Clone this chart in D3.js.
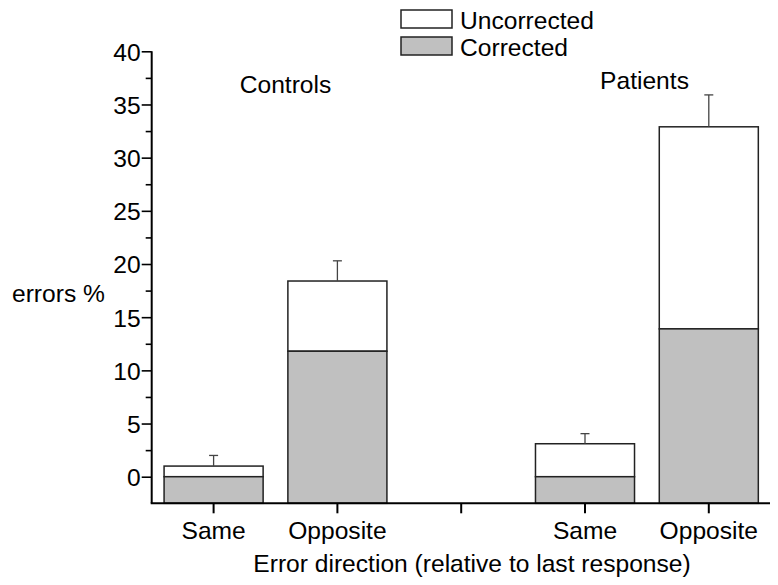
<!DOCTYPE html>
<html>
<head>
<meta charset="utf-8">
<script src="https://cdn.jsdelivr.net/npm/d3@7"></script>
<style>
  body { margin: 0; background: #fff; }
  svg text { font-family: "Liberation Sans", Arial, sans-serif; fill: #000; }
</style>
</head>
<body>
<div id="chart"></div>
<script>
// ------------------
// Data
// ------------------
const slots = ["c-same", "c-opp", "gap", "p-same", "p-opp"];
const slotLabels = ["Same", "Opposite", "", "Same", "Opposite"];
const barSlots = ["c-same", "c-opp", "p-same", "p-opp"];
const corrected = [0, 11.8, 0, 13.9];
const total = [1.0, 18.4, 3.1, 32.9];   // corrected + uncorrected
const errTop = [2.0, 20.3, 4.05, 35.9];
const groups = [
  { name: "Controls", x: 285.5, y: 93 },
  { name: "Patients", x: 644.5, y: 89 }
];
const yMajor = [0, 5, 10, 15, 20, 25, 30, 35, 40];
const yMinor = [2.5, 7.5, 12.5, 17.5, 22.5, 27.5, 32.5, 37.5];

const width = 778, height = 585;
const margin = { left: 151.7, right: 7.3, top: 51.3, bottom: 81.7 };
const yMin = -2.5;
const fontSize = 24.6;

const svg = d3.select("#chart").append("svg")
  .attr("width", width)
  .attr("height", height);

const x = d3.scaleBand()
  .domain(slots)
  .range([margin.left, width - margin.right])
  .paddingInner(0.2)
  .paddingOuter(0.1);

const y = d3.scaleLinear()
  .domain([yMin, 40])
  .range([height - margin.bottom, margin.top]);

const fillGray = "#c0c0c0";
const edge = "#222";

// ------------------
// Bars
// ------------------
const bars = svg.append("g");
barSlots.forEach((s, i) => {
  // uncorrected (white) part on top
  bars.append("rect")
    .attr("x", x(s))
    .attr("width", x.bandwidth())
    .attr("y", y(total[i]))
    .attr("height", y(corrected[i]) - y(total[i]))
    .attr("fill", "#fff")
    .attr("stroke", edge)
    .attr("stroke-width", 1.5);
  // corrected (gray) part from the baseline
  bars.append("rect")
    .attr("x", x(s))
    .attr("width", x.bandwidth())
    .attr("y", y(corrected[i]))
    .attr("height", y(yMin) - y(corrected[i]))
    .attr("fill", fillGray)
    .attr("stroke", edge)
    .attr("stroke-width", 1.5);

  // error bar (upper half only)
  const cx = x(s) + x.bandwidth() / 2;
  bars.append("line")
    .attr("x1", cx).attr("x2", cx)
    .attr("y1", y(total[i])).attr("y2", y(errTop[i]))
    .attr("stroke", "#444").attr("stroke-width", 1.3);
  bars.append("line")
    .attr("x1", cx - 4.5).attr("x2", cx + 4.5)
    .attr("y1", y(errTop[i])).attr("y2", y(errTop[i]))
    .attr("stroke", "#444").attr("stroke-width", 1.3);
});

// ------------------
// Axes
// ------------------
const yAxis = svg.append("g")
  .attr("transform", `translate(${margin.left},0)`)
  .call(d3.axisLeft(y).tickValues(yMajor).tickSize(10).tickPadding(1).tickFormat(d3.format("d")));
yAxis.select(".domain").remove();
yAxis.selectAll(".tick line").attr("stroke", "#000").attr("stroke-width", 1.6);
yAxis.selectAll(".tick text").attr("font-size", fontSize).attr("dy", "0.36em");

const yMinorAxis = svg.append("g")
  .attr("transform", `translate(${margin.left},0)`)
  .call(d3.axisLeft(y).tickValues(yMinor).tickSize(6).tickFormat(""));
yMinorAxis.select(".domain").remove();
yMinorAxis.selectAll(".tick line").attr("stroke", "#000").attr("stroke-width", 1.6);

svg.append("line")
  .attr("x1", margin.left).attr("x2", margin.left)
  .attr("y1", y(40)).attr("y2", y(yMin))
  .attr("stroke", "#000").attr("stroke-width", 2);

const xAxis = svg.append("g")
  .attr("transform", `translate(0,${y(yMin)})`)
  .call(d3.axisBottom(x).tickSize(10).tickPadding(8).tickFormat((d, i) => slotLabels[i]));
xAxis.select(".domain").remove();
xAxis.selectAll(".tick line").attr("stroke", "#000").attr("stroke-width", 2);
xAxis.selectAll(".tick text").attr("font-size", fontSize);

svg.append("line")
  .attr("x1", margin.left - 1).attr("x2", 770)
  .attr("y1", y(yMin)).attr("y2", y(yMin))
  .attr("stroke", "#000").attr("stroke-width", 2);

// ------------------
// Labels
// ------------------
svg.append("text")
  .attr("x", 472).attr("y", 572)
  .attr("text-anchor", "middle")
  .attr("font-size", fontSize)
  .text("Error direction (relative to last response)");

svg.append("text")
  .attr("x", 12).attr("y", 302)
  .attr("font-size", fontSize)
  .text("errors %");

groups.forEach(g => {
  svg.append("text")
    .attr("x", g.x).attr("y", g.y)
    .attr("text-anchor", "middle")
    .attr("font-size", fontSize)
    .text(g.name);
});

// ------------------
// Legend
// ------------------
const legendItems = [
  { label: "Uncorrected", fill: "#fff", y: 10 },
  { label: "Corrected", fill: fillGray, y: 37 }
];
const legend = svg.append("g");
legendItems.forEach(d => {
  legend.append("rect")
    .attr("x", 401).attr("y", d.y)
    .attr("width", 51).attr("height", 18)
    .attr("fill", d.fill)
    .attr("stroke", edge).attr("stroke-width", 1.5);
  legend.append("text")
    .attr("x", 460).attr("y", d.y + 19)
    .attr("font-size", fontSize)
    .text(d.label);
});
</script>
</body>
</html>
